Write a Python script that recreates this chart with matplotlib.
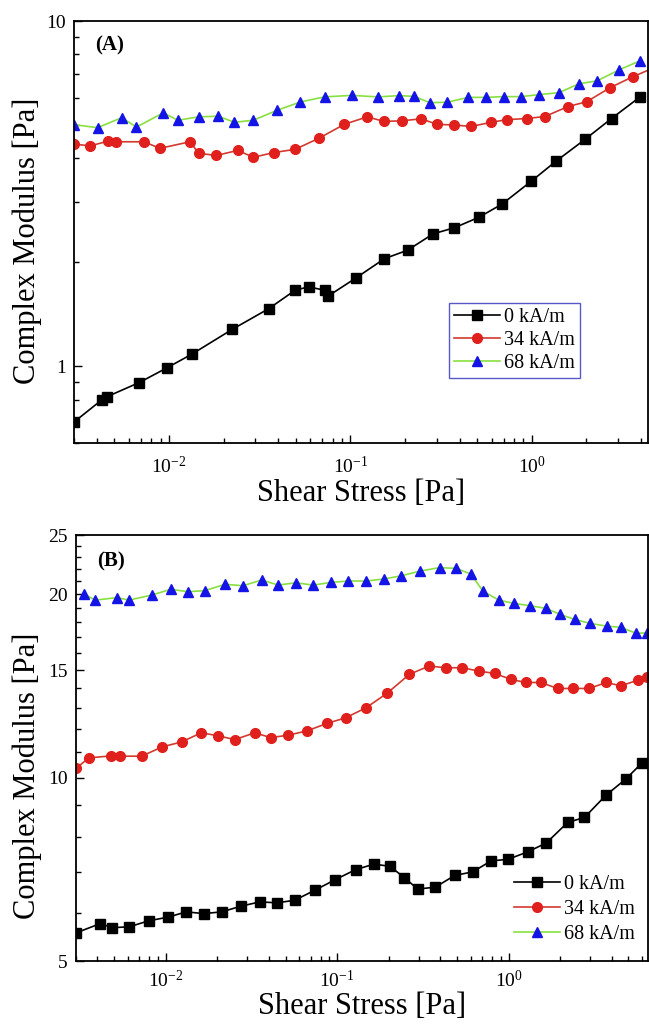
import matplotlib
matplotlib.use('Agg')
import matplotlib.pyplot as plt
from matplotlib.ticker import FixedLocator, LogLocator, NullFormatter, FuncFormatter

plt.rcParams['font.family'] = ['Liberation Serif', 'DejaVu Serif']
plt.rcParams['mathtext.fontset'] = 'stix'

labels = ['0 kA/m', '34 kA/m', '68 kA/m']

# (A) donnees du panneau du haut
a_x0 = [0.0030, 0.00427, 0.00456, 0.00687, 0.00975, 0.01347, 0.02235, 0.03557, 0.04952, 0.05882,
        0.07258, 0.07574, 0.1069, 0.1541, 0.2069, 0.2862, 0.3747, 0.5097, 0.6855, 0.9959, 1.354,
        1.963, 2.75, 3.97]
a_y0 = [0.69, 0.80, 0.817, 0.898, 0.99, 1.087, 1.28, 1.47, 1.66, 1.70, 1.66, 1.60, 1.80,
        2.05, 2.17, 2.42, 2.52, 2.70, 2.95, 3.44, 3.92, 4.54, 5.22, 6.04]

a_x34 = [0.0030, 0.00369, 0.00463, 0.00509, 0.00726, 0.00895, 0.01307, 0.01461, 0.01821, 0.02401,
         0.02921, 0.03787, 0.04962, 0.06736, 0.09253, 0.124, 0.153, 0.1918, 0.246, 0.3005,
         0.3736, 0.4636, 0.597, 0.728, 0.937, 1.18, 1.58, 2.01, 2.70, 3.61, 4.8]
a_y34 = [4.40, 4.35, 4.49, 4.47, 4.47, 4.28, 4.47, 4.14, 4.08, 4.22, 4.03, 4.16, 4.25, 4.58,
         5.02, 5.28, 5.12, 5.14, 5.21, 5.02, 5.00, 4.95, 5.09, 5.18, 5.22, 5.29, 5.65, 5.84,
         6.41, 6.90, 7.35]

a_x68 = [0.0030, 0.00405, 0.00550, 0.00663, 0.00930, 0.01122, 0.01461, 0.01873, 0.02297, 0.02921,
         0.03934, 0.05311, 0.07215, 0.1017, 0.1422, 0.1853, 0.2243, 0.2743, 0.3429, 0.4471,
         0.557, 0.70, 0.869, 1.093, 1.41, 1.82, 2.29, 3.03, 3.95]
a_y68 = [5.01, 4.91, 5.25, 4.93, 5.42, 5.16, 5.28, 5.30, 5.09, 5.16, 5.51, 5.83, 6.03, 6.09,
         6.03, 6.08, 6.05, 5.80, 5.82, 6.01, 6.01, 6.04, 6.04, 6.12, 6.20, 6.58, 6.71, 7.22,
         7.67]

# (B) donnees du panneau du bas
b_x0 = [0.0030, 0.00416, 0.00486, 0.00614, 0.00796, 0.0103, 0.0132, 0.0167, 0.0212, 0.0275,
        0.0353, 0.0448, 0.0566, 0.0739, 0.0976, 0.128, 0.164, 0.203, 0.247, 0.295, 0.374,
        0.486, 0.616, 0.792, 0.989, 1.29, 1.66, 2.21, 2.77, 3.69, 4.82, 5.98]
b_y0 = [5.56, 5.76, 5.67, 5.69, 5.82, 5.90, 6.02, 5.98, 6.02, 6.15, 6.25, 6.23, 6.29, 6.53,
        6.80, 7.06, 7.21, 7.15, 6.85, 6.56, 6.61, 6.91, 7.00, 7.30, 7.34, 7.55, 7.81, 8.44,
        8.60, 9.35, 9.94, 10.56]

b_x34 = [0.0030, 0.00356, 0.00477, 0.00539, 0.00724, 0.00957, 0.0124, 0.0161, 0.0202, 0.0253,
         0.0330, 0.0410, 0.0515, 0.0668, 0.0873, 0.112, 0.147, 0.195, 0.264, 0.344, 0.430,
         0.537, 0.670, 0.828, 1.03, 1.26, 1.54, 1.93, 2.38, 2.95, 3.71, 4.51, 5.69, 6.45]
b_y34 = [10.35, 10.77, 10.85, 10.84, 10.84, 11.23, 11.44, 11.84, 11.71, 11.54, 11.84, 11.63,
         11.73, 11.93, 12.27, 12.53, 13.01, 13.74, 14.77, 15.24, 15.14, 15.14, 14.95, 14.82,
         14.49, 14.32, 14.32, 14.00, 14.00, 14.00, 14.32, 14.14, 14.45, 14.63]

b_x68 = [0.00333, 0.00389, 0.00519, 0.00613, 0.00832, 0.0107, 0.0135, 0.0169, 0.0222, 0.0282,
         0.0363, 0.0453, 0.0573, 0.0727, 0.0918, 0.116, 0.147, 0.187, 0.237, 0.305, 0.396,
         0.494, 0.603, 0.708, 0.875, 1.07, 1.33, 1.65, 2.00, 2.43, 3.00, 3.73, 4.51, 5.56, 6.45]
b_y68 = [20.0, 19.55, 19.73, 19.55, 19.93, 20.36, 20.18, 20.26, 20.75, 20.64, 21.09, 20.69,
         20.87, 20.69, 20.90, 21.01, 21.01, 21.17, 21.43, 21.82, 22.10, 22.04, 21.57, 20.23,
         19.55, 19.31, 19.14, 18.95, 18.52, 18.17, 17.90, 17.72, 17.64, 17.24, 17.28]

# couleurs : trait / marqueur
styles = [('black', 'black', 's', 6.5),
          ('#d23a30', '#e0201c', 'o', 7),
          ('#88e040', '#1414e6', '^', 7.5)]

fig = plt.figure(figsize=(6.49, 10.24), dpi=100)
ax1 = fig.add_axes([74/649, 1-443/1024, 574/649, 422/1024])
ax2 = fig.add_axes([76/649, 1-961/1024, 572/649, 426/1024])

for ax, series in [(ax1, [(a_x0, a_y0), (a_x34, a_y34), (a_x68, a_y68)]),
                   (ax2, [(b_x0, b_y0), (b_x34, b_y34), (b_x68, b_y68)])]:
    for (x, y), (lc, mc, mk, ms), lab in zip(series, styles, labels):
        ax.plot(x, y, color=lc, lw=1.2, marker=mk, ms=ms, mfc=mc, mec=mc, label=lab)
    ax.set_xscale('log')
    ax.set_yscale('log')
    ax.xaxis.set_major_locator(LogLocator(base=10))
    ax.xaxis.set_minor_locator(LogLocator(base=10, subs=range(2, 10)))
    ax.xaxis.set_minor_formatter(NullFormatter())
    ax.tick_params(which='both', direction='in', top=False, right=False, labelsize=14, width=1)
    ax.tick_params(which='major', length=6, pad=6)
    ax.tick_params(which='minor', length=3.5)
    for s in ax.spines.values():
        s.set_linewidth(1.3)
    ax.set_xlabel('Shear Stress [Pa]', fontsize=22)
    ax.set_ylabel('Complex Modulus [Pa]', fontsize=22)

ax1.tick_params(axis='x', which='major', pad=9)
ax2.tick_params(axis='x', which='major', pad=6.5)

fmt = FuncFormatter(lambda v, p: '%g' % v)

# panneau A
ax1.set_xlim(0.003, 4.37)
ax1.set_ylim(0.6, 10)
ax1.yaxis.set_major_locator(FixedLocator([1, 10]))
ax1.yaxis.set_major_formatter(fmt)
ax1.yaxis.set_minor_locator(LogLocator(base=10, subs=range(2, 10)))
ax1.yaxis.set_minor_formatter(NullFormatter())
ax1.xaxis.set_label_coords(0.5, -0.085)
ax1.yaxis.set_label_coords(-0.055, 0.48)
ax1.text(0.037, 0.943, '(A)', transform=ax1.transAxes, fontsize=15, fontweight='bold', va='center')
leg1 = ax1.legend(loc='upper left', bbox_to_anchor=(0.653, 0.332), borderaxespad=0, fontsize=14.5,
                  fancybox=False, edgecolor='#5858c8', framealpha=1, handlelength=2.3,
                  handletextpad=0.2, labelspacing=0.2, borderpad=0.25)
leg1.get_frame().set_linewidth(1)

# panneau B
ax2.set_xlim(0.003, 6.5)
ax2.set_ylim(5, 25)
ax2.yaxis.set_major_locator(FixedLocator([5, 10, 15, 20, 25]))
ax2.yaxis.set_major_formatter(fmt)
ax2.yaxis.set_minor_locator(FixedLocator([v for v in range(6, 25) if v % 5 != 0]))
ax2.yaxis.set_minor_formatter(NullFormatter())
ax2.xaxis.set_label_coords(0.5, -0.072)
ax2.yaxis.set_label_coords(-0.06, 0.434)
ax2.text(0.037, 0.937, '(B)', transform=ax2.transAxes, fontsize=15, fontweight='bold', va='center')
ax2.legend(loc='upper left', bbox_to_anchor=(0.755, 0.216), borderaxespad=0, fontsize=14.5,
           frameon=False, handlelength=2.3, handletextpad=0.2, labelspacing=0.3, borderpad=0.3)

plt.savefig('out.png', dpi=100)
plt.close()
